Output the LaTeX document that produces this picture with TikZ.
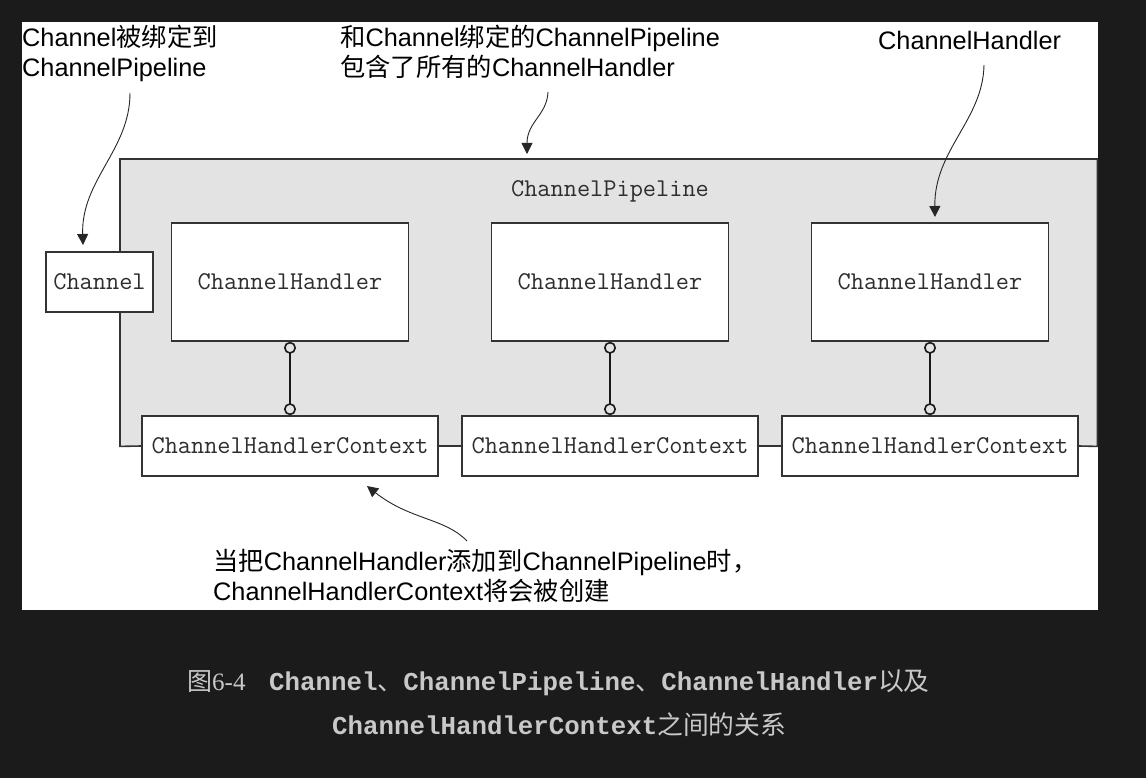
\documentclass[tikz,border=0pt]{standalone}
\usepackage{fontspec}
\usetikzlibrary{arrows.meta,calc}
\newfontfamily\sansf{Liberation Sans}
\newfontfamily\monof{Liberation Mono}
\newfontfamily\seriff{Liberation Serif}
\newfontfamily\cjk{Noto Sans CJK SC}
\newcommand\zh[1]{{\cjk\mdseries #1}}
\definecolor{bgc}{HTML}{1B1B1B}
\definecolor{pipec}{HTML}{E3E3E3}
\definecolor{boxc}{HTML}{333333}
\definecolor{textc}{HTML}{2E2E2E}
\definecolor{capc}{HTML}{C8C8C8}
\tikzset{
  box/.style={draw=boxc, line width=1.6pt, fill=white, inner sep=0pt,
    font=\ttfamily\fontsize{25.6}{30}\selectfont, text=textc},
  hbox/.style={box, minimum width=237pt, minimum height=118pt},
  cbox/.style={box, minimum width=296pt, minimum height=60pt},
  pline/.style={draw=boxc, line width=1.6pt},
  note/.style={font=\sansf\fontsize{25.3}{29}\selectfont, text=black, inner sep=0pt, anchor=base west},
  annot/.style={draw=black!85, line width=0.9pt, -{Triangle[length=11pt,width=11pt]}},
  link/.style={draw=black!90, line width=1.6pt,
    {Circle[open,length=12pt,width=12pt]}-{Circle[open,length=12pt,width=12pt]}},
  capt/.style={text=capc, inner sep=0pt, anchor=base west}
}
\begin{document}
\begin{tikzpicture}[x=1pt,y=-1pt]
\useasboundingbox (0,0) rectangle (1146,778);
\fill[bgc] (0,0) rectangle (1146,778);
\fill[white] (22,22) rectangle (1098,610);

% pipeline area
\node[fill=pipec, minimum width=977pt, minimum height=287pt, inner sep=0pt, anchor=north west] (pipe) at (120,159) {};
\node[font=\ttfamily\fontsize{25.6}{30}\selectfont, text=textc, anchor=base, inner sep=0pt] (plabel) at (610,197) {ChannelPipeline};

% boxes
\node[box, minimum width=107pt, minimum height=60pt] (chan) at (99.5,282) {Channel};
\node[hbox] (h1) at (290,282) {ChannelHandler};
\node[hbox] (h2) at (610,282) {ChannelHandler};
\node[hbox] (h3) at (930,282) {ChannelHandler};
\node[cbox] (c1) at (290,446) {ChannelHandlerContext};
\node[cbox] (c2) at (610,446) {ChannelHandlerContext};
\node[cbox] (c3) at (930,446) {ChannelHandlerContext};

% pipeline outline and chain
\draw[pline] (chan.north -| pipe.west) -- (pipe.north west) -- (pipe.north east) -- (pipe.south east) -- (c3.east);
\draw[pline] (chan.south -| pipe.west) -- (pipe.south west) -- (c1.west);
\draw[pline] (c1.east) -- (c2.west);
\draw[pline] (c2.east) -- (c3.west);

% handler-context links
\draw[link] (h1.south) -- (c1.north);
\draw[link] (h2.south) -- (c2.north);
\draw[link] (h3.south) -- (c3.north);

% annotations
\node[note] (t1a) at (22,47) {Channel\zh{被绑定到}};
\node[note] (t1b) at (22,77) {ChannelPipeline};
\node[note] (t2a) at (340,47) {\zh{和}Channel\zh{绑定的}ChannelPipeline};
\node[note] (t2b) at (340,77) {\zh{包含了所有的}ChannelHandler};
\node[note] (t3) at (878,50) {ChannelHandler};
\node[note] (t4a) at (213,570) {\zh{当把}ChannelHandler\zh{添加到}ChannelPipeline\zh{时，}};
\node[note] (t4b) at (213,600) {ChannelHandlerContext\zh{将会被创建}};

\coordinate (a1s) at (130,93);
\coordinate (a1e) at (83,245);
\coordinate (a2s) at (548,92);
\coordinate (a2e) at (527,154);
\coordinate (a3s) at (984,65);
\coordinate (a3e) at (935,217);
\coordinate (a4s) at (467,541);
\coordinate (a4e) at (367,486);
\draw[annot] (a1s) .. controls (130,150) and (81,180) .. (a1e);
\draw[annot] (a2s) .. controls (547,115) and (527,122) .. (a2e);
\draw[annot] (a3s) .. controls (983,120) and (934,150) .. (a3e);
\draw[annot] (a4s) .. controls (445,518) and (410,520) .. (a4e);

% caption
\node[capt, font=\fontsize{25}{30}\selectfont] (cap0) at (187,690) {\zh{图}{\seriff 6-4}};
\node[capt, font=\monof\bfseries\fontsize{25.8}{30}\selectfont] (cap1) at (269,690) {Channel\zh{、}ChannelPipeline\zh{、}ChannelHandler\zh{以及}};
\node[capt, font=\monof\bfseries\fontsize{25.8}{30}\selectfont] (cap2) at (332,734) {ChannelHandlerContext\zh{之间的关系}};
\end{tikzpicture}
\end{document}
